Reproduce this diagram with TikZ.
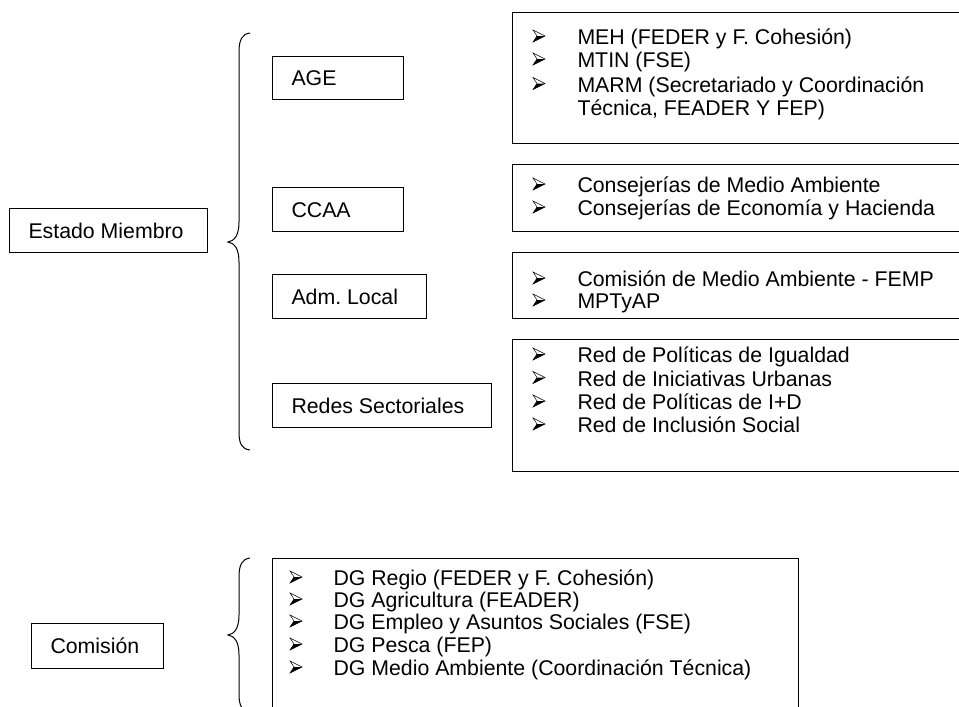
\documentclass[tikz,border=0pt]{standalone}
\usepackage{fontspec}
\setmainfont{Liberation Sans}
\frenchspacing
\begin{document}
\begin{tikzpicture}[x=1pt,y=-1pt,line width=1pt,
  txt/.style={font=\fontsize{21.3}{25}\selectfont},
  lbl/.style={draw,txt,anchor=north west,inner xsep=19pt,inner ysep=0pt,text height=15pt,text depth=0pt},
  listbox/.style={draw},
  item/.style={txt,anchor=base west,inner sep=0pt},
  arrb/.pic={
    \fill (4,0) -- (12,0) -- (0,6) -- cycle;
    \draw[line width=0.5pt,line join=miter] (0,-6) -- (12,0) -- (0,6) -- (4,0) -- cycle;
  }]
\clip (0,0) rectangle (959,707);
\fill[white] (0,0) rectangle (959,707);

% left labels
\node[lbl,minimum height=44pt] (est) at (9,208) {\makebox[160pt][l]{Estado Miembro}};
\node[lbl,minimum height=45pt] (com) at (31,623) {\makebox[94pt][l]{Comisión}};

% middle labels
\node[lbl,minimum height=43pt] (age) at (272,56) {\makebox[93pt][l]{AGE}};
\node[lbl,minimum height=44pt] (ccaa) at (272,187) {\makebox[93pt][l]{CCAA}};
\node[lbl,minimum height=44pt] (adm) at (272,274) {\makebox[116pt][l]{Adm. Local}};
\node[lbl,minimum height=44pt] (redes) at (272,383) {\makebox[181pt][l]{Redes Sectoriales}};

% braces
\coordinate (b1top) at (250,33);
\coordinate (b1tip) at (228,242);
\coordinate (b1bot) at (250,450);
\draw (b1top) .. controls (242,34) and (239,40) .. (239,52)
  -- (239,222) .. controls (239,236) and (234,241) .. (b1tip)
  .. controls (234,243) and (239,248) .. (239,262)
  -- (239,432) .. controls (239,444) and (242,449) .. (b1bot);
\coordinate (b2top) at (250,558);
\coordinate (b2tip) at (228,635);
\coordinate (b2bot) at (250,712);
\draw (b2top) .. controls (242,559) and (239,565) .. (239,577)
  -- (239,615) .. controls (239,629) and (234,634) .. (b2tip)
  .. controls (234,636) and (239,641) .. (239,655)
  -- (239,694) .. controls (239,706) and (242,711) .. (b2bot);

% list boxes
\draw[listbox] (512,12) rectangle (970,143);
\draw[listbox] (512,164) rectangle (970,231);
\draw[listbox] (512,252) rectangle (970,318);
\draw[listbox] (512,339) rectangle (970,471);
\draw[listbox] (272,558) rectangle (798,720);

% box 1
\pic at (533,36) {arrb};
\node[item] (a1) at (577,44.5) {MEH (FEDER y F. Cohesión)};
\pic at (533,59) {arrb};
\node[item] (a2) at (577,67.5) {MTIN (FSE)};
\pic at (533,83.5) {arrb};
\node[item] (a3) at (577,92) {MARM (Secretariado y Coordinación};
\node[item] (a4) at (577,115.5) {Técnica, FEADER Y FEP)};

% box 2
\pic at (533,184) {arrb};
\node[item] (c1) at (577,192.5) {Consejerías de Medio Ambiente};
\pic at (533,207) {arrb};
\node[item] (c2) at (577,215.5) {Consejerías de Economía y Hacienda};

% box 3
\pic at (533,278) {arrb};
\node[item] (d1) at (577,286.5) {Comisión de Medio Ambiente - FEMP};
\pic at (533,300) {arrb};
\node[item] (d2) at (577,308.5) {MPTyAP};

% box 4
\pic at (533,354) {arrb};
\node[item] (r1) at (577,362.5) {Red de Políticas de Igualdad};
\pic at (533,377.5) {arrb};
\node[item] (r2) at (577,386) {Red de Iniciativas Urbanas};
\pic at (533,401) {arrb};
\node[item] (r3) at (577,409.5) {Red de Políticas de I+D};
\pic at (533,424) {arrb};
\node[item] (r4) at (577,432.5) {Red de Inclusión Social};

% box 5
\pic at (290,577) {arrb};
\node[item] (g1) at (333,585.5) {DG Regio (FEDER y F. Cohesión)};
\pic at (290,599) {arrb};
\node[item] (g2) at (333,607.5) {DG Agricultura (FEADER)};
\pic at (290,621) {arrb};
\node[item] (g3) at (333,629.5) {DG Empleo y Asuntos Sociales (FSE)};
\pic at (290,644) {arrb};
\node[item] (g4) at (333,652.5) {DG Pesca (FEP)};
\pic at (290,667) {arrb};
\node[item] (g5) at (333,675.5) {DG Medio Ambiente (Coordinación Técnica)};
\end{tikzpicture}
\end{document}
